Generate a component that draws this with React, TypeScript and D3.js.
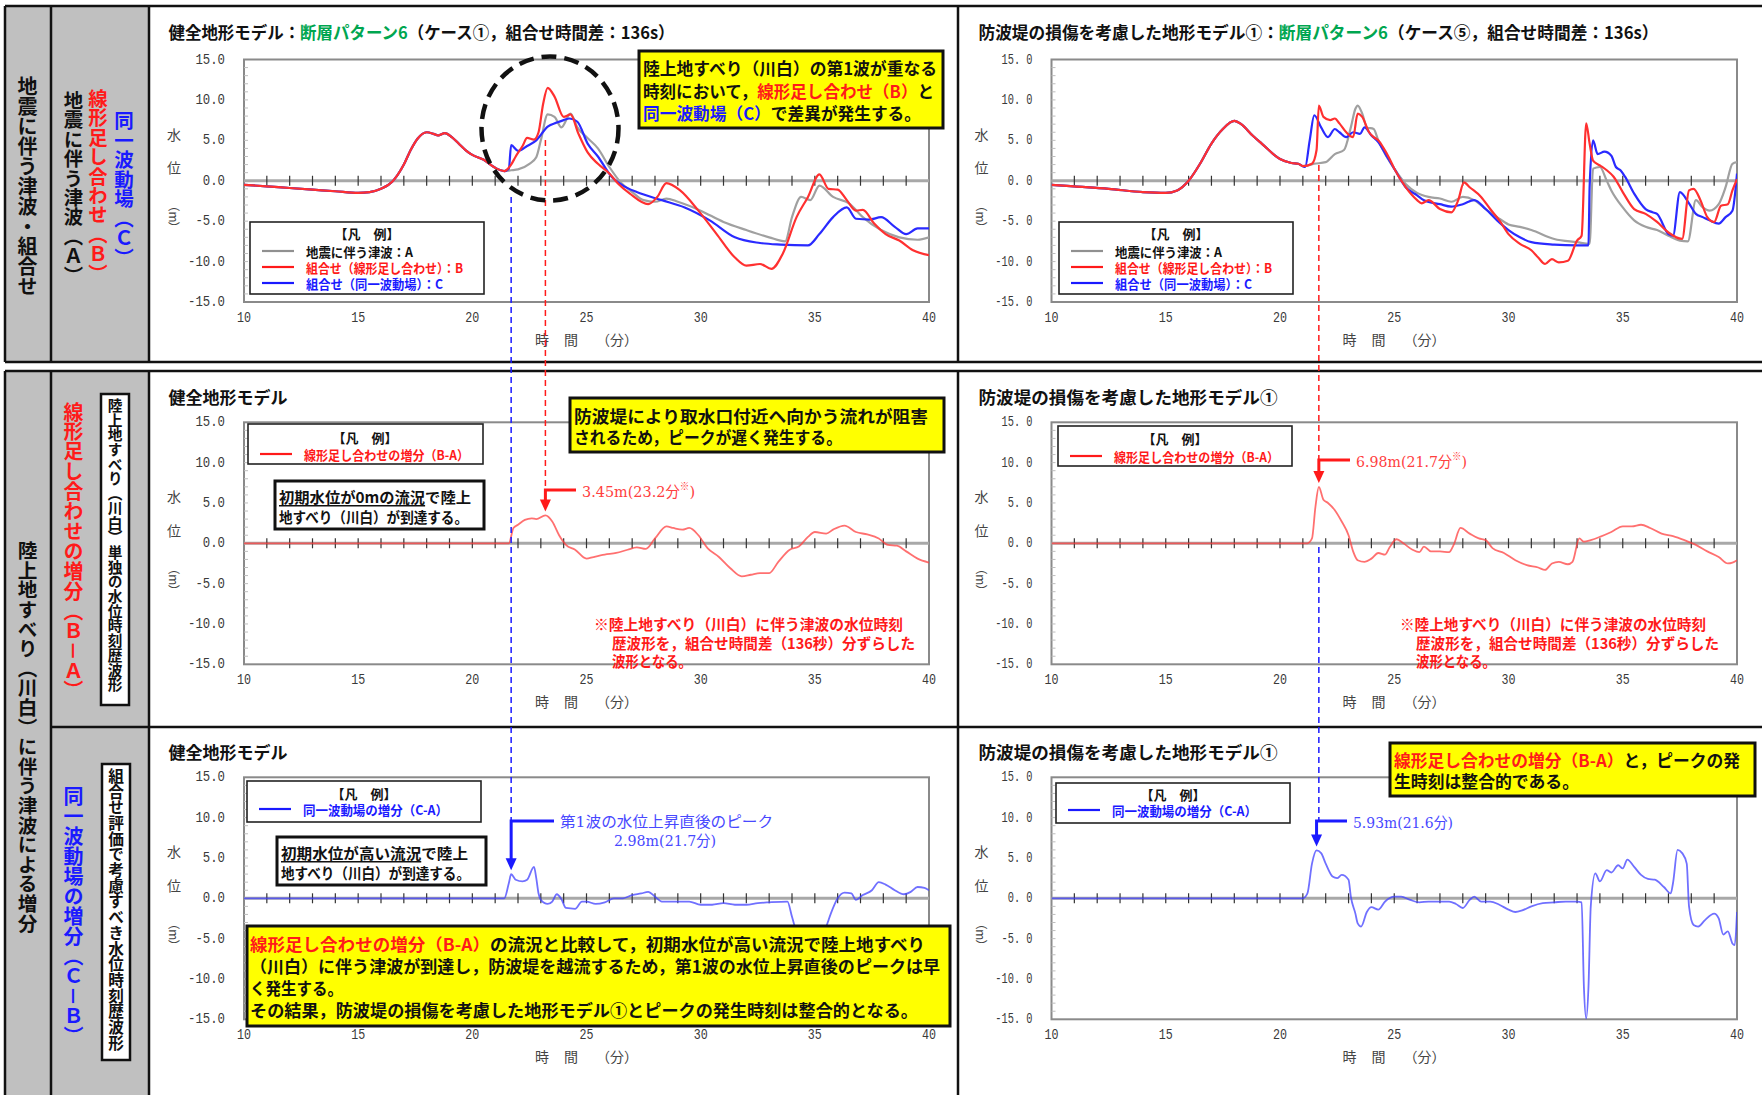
import * as d3 from "d3";

type Pt = [number, number];
type Seg = [string, string];

const FONT = "'Noto Sans CJK JP', 'Noto Sans', sans-serif";
const NUM_FONT = "'Liberation Mono', 'DejaVu Sans Mono', monospace";
const SERIF = "'DejaVu Serif', 'Liberation Serif', 'Noto Sans CJK JP', serif";

const RED = "#ff1a1a";
const BLUE = "#1a1aff";
const GREEN = "#00a650";

const timeTicks = [10, 15, 20, 25, 30, 35, 40];
const levelTicks = [15, 10, 5, 0, -5, -10, -15];

// 健全地形モデル (A/B/C share the first part)
const healthyLead: Pt[] = [
  [10, -0.5], [11, -0.7], [12, -0.9], [13, -1.1], [14, -1.3], [15, -1.5], [15.5, -1.4],
  [16, -1.0], [16.5, -0.1], [17, 2.0], [17.3, 3.8], [17.6, 5.2], [18, 6.0], [18.3, 5.8],
  [18.5, 5.6], [18.8, 5.9], [19.1, 5.4], [19.4, 4.6], [19.7, 3.8], [20, 3.2], [20.5, 2.6],
  [21, 1.6], [21.4, 1.2],
];
const healthyATail: Pt[] = [
  [21.7, 1.3], [22, 1.4], [22.5, 2.1], [22.8, 2.9], [23, 5.0], [23.3, 8.2], [23.6, 7.9],
  [23.9, 6.6], [24.3, 8.3], [24.6, 6.6], [25, 5.4], [25.5, 4.0], [26, 1.7], [26.5, -0.2],
  [27, -1.4], [27.5, -2.4], [28, -2.6], [28.5, -2.2], [29, -2.6], [30, -3.7], [31, -5.1],
  [32, -6.1], [33, -7.0], [33.7, -7.5], [34, -4.5], [34.4, -2.0], [34.8, -2.4], [35.2, -0.6],
  [35.8, -2.0], [36.5, -2.8], [37.1, -4.5], [37.9, -6.1], [38.7, -7.0], [39.5, -7.3], [40, -7.0],
];
const healthyBTail: Pt[] = [
  [21.7, 2.0], [21.9, 3.0], [22.2, 4.3], [22.4, 5.3], [22.7, 5.1], [22.9, 6.0], [23.1, 9.5],
  [23.3, 11.5], [23.6, 10.4], [24.0, 7.9], [24.3, 8.2], [24.65, 5.8], [25.05, 3.5], [25.5, 2.1],
  [26.0, 0.9], [26.4, -0.4], [26.9, -1.6], [27.7, -2.9], [28.1, -2.0], [28.5, -0.3], [29.1, -1.2],
  [29.9, -3.7], [30.7, -6.6], [31.5, -9.5], [32.0, -10.5], [32.6, -10.3], [33.1, -10.9],
  [33.6, -9.0], [34.2, -4.5], [34.7, -2.0], [35.2, 0.8], [35.6, -1.0], [36.0, -1.1], [36.4, -2.4],
  [36.8, -3.7], [37.1, -3.6], [37.6, -5.3], [38.1, -6.6], [38.7, -7.4], [39.3, -8.6], [40, -9.2],
];
const healthyCTail: Pt[] = [
  [21.6, 1.5], [21.7, 4.4], [22.0, 3.7], [22.4, 4.3], [22.8, 5.0], [23.3, 6.7], [23.7, 7.2],
  [24.0, 7.5], [24.25, 7.7], [24.6, 7.3], [25.05, 4.6], [25.5, 3.0], [26.1, 0.5], [26.6, -0.6],
  [27.2, -1.4], [28.3, -2.4], [29.3, -3.3], [30.4, -4.9], [31.5, -7.0], [32.6, -7.7],
  [33.5, -7.9], [34.7, -8.0], [35.2, -6.6], [35.8, -4.5], [36.4, -3.3], [36.8, -4.7],
  [37.4, -4.8], [37.9, -4.5], [38.5, -5.7], [39.0, -6.6], [39.5, -5.9], [40, -5.9],
];

// 防波堤の損傷を考慮した地形モデル①
const damagedLead: Pt[] = [
  [10, -0.5], [11, -0.7], [12.5, -1.0], [14, -1.4], [15, -1.5], [15.5, -1.2], [16.0, 0],
  [16.5, 2.1], [17.0, 4.6], [17.5, 6.4], [18.0, 7.4], [18.3, 7.0], [18.8, 5.6], [19.2, 4.6],
  [20, 2.7], [20.5, 2.2], [20.8, 2.1], [21.0, 1.8],
];
const damagedATail: Pt[] = [
  [21.5, 2.1], [22, 2.3], [22.4, 3.3], [22.8, 3.8], [23.1, 6.6], [23.3, 8.9], [23.4, 9.3],
  [23.6, 8.3], [23.8, 6.6], [24.1, 6.4], [24.3, 5.0], [24.6, 3.3], [25, 1.5], [25.5, -0.4],
  [26, -1.5], [26.5, -2.0], [27, -2.2], [27.5, -2.6], [28, -2.0], [28.5, -2.4], [29, -3.5],
  [29.5, -4.5], [30, -5.4], [30.5, -5.7], [31, -6.1], [32, -7.2], [33, -7.6], [33.55, -7.8],
  [33.7, 1.5], [34.0, 1.7], [34.3, 0], [34.5, -1.2], [35, -3.3], [35.5, -4.9], [36, -5.7],
  [36.5, -6.1], [37, -6.8], [37.5, -7.4], [37.85, -7.5], [38.2, -2.4], [38.5, -3.3],
  [38.8, -3.7], [39.2, -2.9], [39.5, -0.8], [39.8, 2.1], [40, 2.3],
];
const damagedBTail: Pt[] = [
  [21.4, 2.1], [21.6, 3.8], [21.7, 9.3], [21.9, 7.9], [22.2, 7.5], [22.4, 7.7], [22.6, 7.1],
  [22.9, 6.0], [23.2, 5.4], [23.4, 8.3], [23.6, 7.9], [23.9, 6.0], [24.1, 5.4], [24.3, 5.0],
  [24.5, 4.2], [24.8, 2.7], [25, 1.5], [25.5, -0.8], [26, -2.4], [26.2, -2.8], [26.5, -2.4],
  [27, -3.5], [27.5, -3.9], [27.8, -2.4], [28.05, -0.2], [28.3, -0.8], [28.8, -2.0],
  [29.2, -3.5], [29.6, -4.9], [30, -6.6], [30.5, -7.8], [31, -8.6], [31.3, -9.5], [31.6, -10.3],
  [31.9, -9.7], [32.2, -10.1], [32.6, -9.9], [33, -7.4], [33.2, -6.8], [33.4, 7.1], [33.55, 4.6],
  [33.7, 2.5], [34, 1.9], [34.3, 1.3], [34.6, 0.5], [35, -1.4], [35.5, -3.5], [36, -4.1],
  [36.5, -5.1], [37, -6.4], [37.6, -7.2], [37.9, -1.2], [38.1, -1.0], [38.4, -2.4], [38.7, -4.5],
  [39.0, -5.1], [39.3, -3.1], [39.6, -2.9], [39.8, -1.2], [40, 0.2],
];
const damagedCTail: Pt[] = [
  [21.1, 1.7], [21.3, 5.0], [21.5, 8.1], [21.8, 6.6], [22.1, 5.4], [22.4, 6.4], [22.6, 6.0],
  [22.9, 5.4], [23.2, 6.0], [23.5, 5.8], [23.7, 6.6], [24.0, 5.6], [24.3, 4.8], [24.7, 2.9],
  [25, 1.5], [25.5, -0.8], [26, -1.8], [26.3, -2.4], [27, -2.9], [27.5, -3.2], [28, -2.9],
  [28.5, -2.4], [29, -3.5], [29.5, -4.9], [30, -6.1], [30.5, -7.0], [31, -7.6], [32, -7.9],
  [33, -8.0], [33.5, -8.0], [33.55, -0.8], [33.7, 5.0], [33.9, 3.3], [34.2, 3.6], [34.5, 3.1],
  [34.7, 1.7], [34.9, 1.3], [35.1, 0.5], [35.5, -1.6], [36, -3.5], [36.3, -3.9], [36.5, -4.1],
  [37, -6.6], [37.2, -6.8], [37.5, -1.4], [37.9, -2.8], [38.2, -4.1], [38.5, -4.5], [38.8, -4.9],
  [39.2, -5.3], [39.5, -4.5], [39.8, -3.7], [40, 0.9],
];

// 増分
const healthyBA: Pt[] = [
  [10, 0], [21.6, 0], [21.8, 1.9], [22.0, 2.3], [22.3, 2.9], [22.6, 3.1], [22.8, 3.0],
  [23.2, 3.45], [23.5, 2.7], [23.8, 1.0], [24.1, -0.2], [24.5, -0.8], [25, -1.9], [25.3, -1.7],
  [25.8, -1.4], [26.3, -1.2], [26.8, -0.8], [27.2, -0.5], [27.6, -0.7], [28.0, 0.6], [28.5, 2.1],
  [28.8, 1.9], [29.2, 1.7], [29.5, 1.9], [29.9, 1.0], [30.3, -0.6], [30.8, -1.7], [31.3, -3.1],
  [31.8, -4.1], [32.2, -3.9], [32.6, -3.7], [33, -3.7], [33.4, -2.3], [33.9, -0.8], [34.3, -0.4],
  [34.7, 0.8], [35, 1.4], [35.5, 1.2], [35.8, 1.7], [36.3, 2.2], [36.8, 1.4], [37.3, 1.1],
  [37.8, 0.6], [38.2, -0.2], [38.6, -0.3], [39, -1.0], [39.5, -1.9], [40, -2.4],
];
const damagedBA: Pt[] = [
  [10, 0], [21.2, 0], [21.4, 0.6], [21.55, 4.5], [21.7, 6.98], [21.9, 5.4], [22.1, 5.0],
  [22.4, 4.1], [22.7, 2.7], [23.0, 1.0], [23.2, -1.0], [23.4, -2.1], [23.7, -2.3], [24.0, -1.9],
  [24.3, -1.2], [24.6, -1.4], [24.8, -0.5], [25.1, 0.5], [25.4, 0], [25.8, -0.8], [26.1, -1.1],
  [26.3, -0.4], [26.6, -1.0], [27, -1.0], [27.4, -1.1], [27.6, -0.2], [27.9, 1.9], [28.3, 1.2],
  [28.7, 0.6], [29.0, 0.4], [29.3, -0.6], [29.8, -1.2], [30.3, -2.1], [30.8, -2.7], [31.3, -3.0],
  [31.6, -3.3], [31.9, -2.5], [32.2, -2.3], [32.6, -2.6], [32.8, -2.3], [33.1, 0.6], [33.3, 0.2],
  [33.6, 0.4], [34, 0.8], [34.5, 1.4], [35, 2.1], [35.4, 2.1], [35.8, 2.3], [36.2, 1.9],
  [36.7, 1.2], [37.2, 0.9], [37.7, 0.4], [38.2, -0.2], [38.7, -1.0], [39.2, -1.7], [39.6, -2.5],
  [39.8, -2.4], [40, -2.1],
];
const healthyCA: Pt[] = [
  [10, 0], [21.4, 0], [21.6, 1.9], [21.7, 2.98], [21.9, 2.3], [22.2, 2.1], [22.4, 2.3],
  [22.7, 3.9], [22.8, 2.5], [22.9, 0.6], [23.0, -0.2], [23.3, -0.7], [23.5, -0.4], [23.7, 0.5],
  [23.9, -0.1], [24.1, -1.2], [24.5, -1.3], [24.8, -0.4], [25, -0.4], [25.4, -0.7], [25.8, -0.5],
  [26.2, 0], [26.6, 0], [27, 0.4], [27.4, 0.6], [27.7, 0.8], [28, 0.2], [28.3, -0.4], [29, -0.4],
  [29.5, -0.4], [30, -0.8], [30.5, -0.8], [31, -0.6], [31.5, -0.8], [32, -0.8], [32.5, -0.6],
  [33, -0.5], [33.8, -0.4], [34.0, -2.3], [34.3, -5.0], [34.8, -6.0], [35.2, -5.2], [35.5, -3.5],
  [35.7, -1.9], [36, 0], [36.3, 0.7], [36.6, 0.6], [36.8, -0.2], [37.1, 0.4], [37.5, 1.0],
  [37.8, 2.0], [38.1, 1.7], [38.5, 1.0], [38.9, 0.5], [39.2, 0.8], [39.5, 1.4], [39.8, 1.3],
  [40, 1.0],
];
const damagedCA: Pt[] = [
  [10, 0], [21.0, 0], [21.2, 0.6], [21.4, 4.3], [21.6, 5.93], [21.8, 5.6], [22.0, 4.3],
  [22.3, 2.7], [22.5, 2.5], [22.7, 2.9], [23.0, 2.3], [23.1, 0.2], [23.3, -1.9], [23.4, -3.1],
  [23.55, -3.5], [23.8, -1.7], [24.0, -1.1], [24.3, -1.4], [24.6, -0.4], [25, 0.2], [25.3, 0.2],
  [25.7, -0.2], [26.1, -0.5], [26.5, -0.4], [27, -0.4], [27.4, -0.4], [27.7, -0.7], [28, -1.2],
  [28.3, -0.2], [28.5, 0.2], [28.8, -0.4], [29.2, -0.4], [29.6, -0.8], [30, -1.4], [30.3, -1.7],
  [30.6, -1.5], [31, -1.0], [31.5, -0.6], [32, -0.5], [32.5, -0.4], [33, -0.4], [33.2, -0.5],
  [33.3, -11], [33.4, -14.9], [33.5, -11], [33.6, -1.0], [33.8, 3.1], [34.0, 2.1], [34.3, 3.5],
  [34.5, 3.2], [34.8, 4.1], [35.0, 3.7], [35.2, 4.8], [35.5, 3.9], [35.8, 2.9], [36.1, 2.4],
  [36.4, 2.3], [36.8, 1.4], [37.1, 0.6], [37.2, 1.9], [37.4, 6.0], [37.6, 5.6], [37.8, 4.3],
  [37.9, -1.0], [38.1, -3.3], [38.3, -3.5], [38.6, -2.7], [39.0, -1.9], [39.2, -2.5], [39.4, -4.5],
  [39.6, -4.1], [39.8, -5.6], [39.9, -5.8], [40, -1.7],
];

const peakHealthyBA: Pt = [23.2, 3.45];
const peakDamagedBA: Pt = [21.7, 6.98];
const peakHealthyCA: Pt = [21.7, 2.98];
const peakDamagedCA: Pt = [21.6, 5.93];

const COLS = { L: [244, 929], R: [1051.5, 1737] } as const;
const ROWS = { r1: [59.5, 302], r2: [422.3, 664.3], r3: [777.3, 1019.3] } as const;
type Col = keyof typeof COLS;
type Row = keyof typeof ROWS;

function scales(col: Col, row: Row) {
  const [l, r] = COLS[col];
  const [t, b] = ROWS[row];
  return {
    x: d3.scaleLinear().domain([10, 40]).range([l, r]),
    y: d3.scaleLinear().domain([-15, 15]).range([b, t]),
    l, r, t, b,
  };
}

type Series = { data: Pt[]; color: string; width: number; opacity?: number };

function Panel({ id, col, row, series }: { id: string; col: Col; row: Row; series: Series[] }) {
  const { x, y, l, r, t, b } = scales(col, row);
  const spaced = col === "R";
  const line = d3.line<Pt>().x((d) => x(d[0])).y((d) => y(d[1])).curve(d3.curveMonotoneX);
  const fmt = (v: number) => (spaced ? v.toFixed(1).replace(".", ". ") : v.toFixed(1));
  return (
    <g>
      <defs>
        <clipPath id={id}>
          <rect x={l} y={t} width={r - l} height={b - t} />
        </clipPath>
      </defs>
      <rect x={l} y={t} width={r - l} height={b - t} fill="#fff" stroke="#8a8a8a" strokeWidth={2} />
      {d3.range(-14, 15).map((v) => (
        <line key={v} x1={l} x2={l + 4} y1={y(v)} y2={y(v)} stroke="#bdbdbd" strokeWidth={1} />
      ))}
      <line x1={l} x2={r} y1={y(0)} y2={y(0)} stroke="#a8a8a8" strokeWidth={3} />
      {d3.range(11, 40).map((tm) => (
        <line key={tm} x1={x(tm)} x2={x(tm)} y1={y(0) - 5} y2={y(0) + 5} stroke="#333" strokeWidth={1.2} />
      ))}
      {levelTicks.map((v) => {
        const s = fmt(v);
        return (
          <text key={v} x={l - 19} y={y(v)} textAnchor="end" dominantBaseline="central" fontFamily={NUM_FONT}
            fontSize={14.5} fill="#3a3a3a" textLength={s.length * (spaced ? 6.2 : 7.4)} lengthAdjust="spacingAndGlyphs">
            {s}
          </text>
        );
      })}
      {timeTicks.map((tm) => (
        <text key={tm} x={x(tm)} y={b + 16} textAnchor="middle" dominantBaseline="central" fontFamily={NUM_FONT}
          fontSize={14.5} fill="#3a3a3a" textLength={14} lengthAdjust="spacingAndGlyphs">
          {tm}
        </text>
      ))}
      <g fontFamily={FONT} fontSize={14} fill="#444">
        <text x={l - 70} y={t + 74} textAnchor="middle" dominantBaseline="central">水</text>
        <text x={l - 70} y={t + 107.5} textAnchor="middle" dominantBaseline="central">位</text>
        <text x={l - 70} y={t + 157.5} textAnchor="middle" style={{ writingMode: "vertical-rl" }} fontSize={12}>（m）</text>
        <text x={l + 298} y={b + 37} textAnchor="middle" dominantBaseline="central">時</text>
        <text x={l + 327} y={b + 37} textAnchor="middle" dominantBaseline="central">間</text>
        <text x={l + 373} y={b + 37} textAnchor="middle" dominantBaseline="central">（分）</text>
      </g>
      <g clipPath={`url(#${id})`}>
        {series.map((s, i) => (
          <path key={i} d={line(s.data) ?? ""} fill="none" stroke={s.color} strokeWidth={s.width}
            strokeOpacity={s.opacity ?? 1} strokeLinejoin="round" />
        ))}
      </g>
    </g>
  );
}

function Rich({ x, y, size, segs, len, weight = 700, font = FONT }: {
  x: number; y: number; size: number; segs: Seg[]; len?: number; weight?: number; font?: string;
}) {
  return (
    <text x={x} y={y} fontSize={size} fontWeight={weight} fontFamily={font} dominantBaseline="central"
      textLength={len} lengthAdjust={len ? "spacingAndGlyphs" : undefined}>
      {segs.map(([txt, c], i) => (
        <tspan key={i} fill={c === "u" ? "#111" : c} style={c === "u" ? { textDecoration: "underline" } : undefined}>
          {txt}
        </tspan>
      ))}
    </text>
  );
}

type LegendItem = { label: string; color: string; len: number };

function Legend({ x, y, w, h, titleDy, rowDy, rowGap, items }: {
  x: number; y: number; w: number; h: number; titleDy: number; rowDy: number; rowGap: number; items: LegendItem[];
}) {
  return (
    <g fontFamily={FONT} fontWeight={700} fontSize={13}>
      <rect x={x} y={y} width={w} height={h} fill="#fff" stroke="#222" strokeWidth={1.6} />
      <text x={x + 117} y={y + titleDy} textAnchor="middle" dominantBaseline="central" fill="#111">【凡　例】</text>
      {items.map((it, i) => (
        <g key={i}>
          <line x1={x + 12} x2={x + 44} y1={y + rowDy + i * rowGap} y2={y + rowDy + i * rowGap} stroke={it.color} strokeWidth={2.2} />
          <text x={x + 56} y={y + rowDy + i * rowGap} dominantBaseline="central" fill={it.color === "#909090" ? "#111" : it.color}
            textLength={it.len} lengthAdjust="spacingAndGlyphs">{it.label}</text>
        </g>
      ))}
    </g>
  );
}

function PeakArrow({ col, row, peak, labelX, labelY, color }: {
  col: Col; row: Row; peak: Pt; labelX: number; labelY: number; color: string;
}) {
  const { x, y } = scales(col, row);
  const px = x(peak[0]);
  const tip = y(peak[1]) - 4;
  const by = labelY - 2;
  return (
    <g>
      <path d={`M${labelX - 6},${by}H${px}V${tip - 11}`} fill="none" stroke={color} strokeWidth={3} />
      <path d={`M${px - 5.5},${tip - 12}L${px + 5.5},${tip - 12}L${px},${tip}Z`} fill={color} />
    </g>
  );
}

function VText({ x, y, size, color, children }: { x: number; y: number; size: number; color: string; children: string }) {
  return (
    <text x={x} y={y} fontSize={size} fill={color} fontWeight={700} fontFamily={FONT} style={{ writingMode: "vertical-rl" }}>
      {children}
    </text>
  );
}

const K = "#111";

export default function App() {
  const sL1 = scales("L", "r1");
  const sR1 = scales("R", "r1");
  const topA = "#a0a0a0";
  const legendTop: LegendItem[] = [
    { label: "地震に伴う津波：A", color: "#909090", len: 107 },
    { label: "組合せ（線形足し合わせ）：B", color: RED, len: 157 },
    { label: "組合せ（同一波動場）：C", color: BLUE, len: 137 },
  ];
  const xRed = sL1.x(peakHealthyBA[0]);
  const xBlue = sL1.x(peakHealthyCA[0]);
  const xRight = sR1.x(peakDamagedBA[0]);
  return (
    <div style={{ position: "absolute", left: 0, top: 0 }}>
      <svg width={1762} height={1095} viewBox="0 0 1762 1095" style={{ display: "block" }}>
        <rect x={0} y={0} width={1762} height={1095} fill="#fff" />
        <rect x={5} y={6} width={144} height={356} fill="#c0c0c0" />
        <rect x={5} y={371} width={144} height={730} fill="#c0c0c0" />

        <Panel id="c1" col="L" row="r1" series={[
          { data: [...healthyLead, ...healthyATail], color: topA, width: 2.2 },
          { data: [...healthyLead, ...healthyCTail], color: "#2a2aff", width: 2.2 },
          { data: [...healthyLead, ...healthyBTail], color: "#ff3030", width: 2.2 },
        ]} />
        <Panel id="c2" col="R" row="r1" series={[
          { data: [...damagedLead, ...damagedATail], color: topA, width: 2.2 },
          { data: [...damagedLead, ...damagedCTail], color: "#2a2aff", width: 2.2 },
          { data: [...damagedLead, ...damagedBTail], color: "#ff3030", width: 2.2 },
        ]} />
        <Panel id="c3" col="L" row="r2" series={[{ data: healthyBA, color: "#ff4040", width: 1.8, opacity: 0.75 }]} />
        <Panel id="c4" col="R" row="r2" series={[{ data: damagedBA, color: "#ff4040", width: 1.8, opacity: 0.75 }]} />
        <Panel id="c5" col="L" row="r3" series={[{ data: healthyCA, color: "#4040ff", width: 1.8, opacity: 0.75 }]} />
        <Panel id="c6" col="R" row="r3" series={[{ data: damagedCA, color: "#4040ff", width: 1.8, opacity: 0.75 }]} />

        {/* frame lines */}
        <g stroke="#111" strokeWidth={2.5}>
          <line x1={5} x2={1762} y1={6} y2={6} />
          <line x1={5} x2={1762} y1={362} y2={362} />
          <line x1={5} x2={1762} y1={371} y2={371} />
          <line x1={51} x2={1762} y1={727} y2={727} />
          {[5, 51, 149, 958].map((vx) => (
            <g key={vx}>
              <line x1={vx} x2={vx} y1={6} y2={362} />
              <line x1={vx} x2={vx} y1={371} y2={1095} />
            </g>
          ))}
        </g>

        {/* titles */}
        <Rich x={168.5} y={30.5} size={17} len={506}
          segs={[["健全地形モデル：", K], ["断層パターン6", GREEN], ["（ケース①，組合せ時間差：136s）", K]]} />
        <Rich x={978.5} y={30.5} size={17} len={680}
          segs={[["防波堤の損傷を考慮した地形モデル①：", K], ["断層パターン6", GREEN], ["（ケース⑤，組合せ時間差：136s）", K]]} />
        <Rich x={168.5} y={396} size={17} segs={[["健全地形モデル", K]]} />
        <Rich x={978.5} y={396} size={17} len={299} segs={[["防波堤の損傷を考慮した地形モデル①", K]]} />
        <Rich x={168.5} y={751} size={17} segs={[["健全地形モデル", K]]} />
        <Rich x={978.5} y={751} size={17} len={299} segs={[["防波堤の損傷を考慮した地形モデル①", K]]} />

        {/* dashed guide lines */}
        <g strokeWidth={1.5} strokeDasharray="6,4">
          <line x1={xRed} x2={xRed} y1={140} y2={490} stroke={RED} />
          <line x1={xBlue} x2={xBlue} y1={197} y2={821} stroke={BLUE} />
          <line x1={xRight} x2={xRight} y1={165} y2={460} stroke={RED} />
          <line x1={xRight} x2={xRight} y1={547} y2={821} stroke={BLUE} />
        </g>
        <ellipse cx={550} cy={128.5} rx={68.5} ry={72} fill="none" stroke="#111" strokeWidth={4.5} strokeDasharray="15,8" />

        {/* legends */}
        <Legend x={250} y={222} w={234} h={72} titleDy={11} rowDy={29} rowGap={16} items={legendTop} />
        <Legend x={1059} y={222} w={234} h={72} titleDy={11} rowDy={29} rowGap={16} items={legendTop} />
        <Legend x={248} y={424} w={235} h={40} titleDy={13} rowDy={30} rowGap={0}
          items={[{ label: "線形足し合わせの増分（B-A）", color: RED, len: 165 }]} />
        <Legend x={1058} y={426} w={234} h={40} titleDy={12} rowDy={30} rowGap={0}
          items={[{ label: "線形足し合わせの増分（B-A）", color: RED, len: 165 }]} />
        <Legend x={247} y={781} w={234} h={41} titleDy={12} rowDy={28} rowGap={0}
          items={[{ label: "同一波動場の増分（C-A）", color: BLUE, len: 145 }]} />
        <Legend x={1056} y={783} w={234} h={40} titleDy={11} rowDy={27} rowGap={0}
          items={[{ label: "同一波動場の増分（C-A）", color: BLUE, len: 145 }]} />

        {/* yellow notes */}
        <g>
          <rect x={639} y={51} width={304} height={77} fill="#ffff00" stroke="#111" strokeWidth={3} />
          <Rich x={643} y={68} size={16.5} len={294} segs={[["陸上地すべり（川白）の第1波が重なる", K]]} />
          <Rich x={643} y={91} size={16.5} len={291} segs={[["時刻において，", K], ["線形足し合わせ（B）", RED], ["と", K]]} />
          <Rich x={643} y={113} size={16.5} len={278} segs={[["同一波動場（C）", BLUE], ["で差異が発生する。", K]]} />

          <rect x={570} y={398} width={374} height={54} fill="#ffff00" stroke="#111" strokeWidth={3} />
          <Rich x={574} y={416} size={16.5} len={354} segs={[["防波堤により取水口付近へ向かう流れが阻害", K]]} />
          <Rich x={574} y={437} size={16.5} len={268} segs={[["されるため，ピークが遅く発生する。", K]]} />

          <rect x={247} y={926} width={703} height={100} fill="#ffff00" stroke="#111" strokeWidth={3} />
          <Rich x={250} y={944} size={16.5} len={675}
            segs={[["線形足し合わせの増分（B-A）", RED], ["の流況と比較して，初期水位が高い流況で陸上地すべり", K]]} />
          <Rich x={250} y={966} size={16.5} len={690}
            segs={[["（川白）に伴う津波が到達し，防波堤を越流するため，第1波の水位上昇直後のピークは早", K]]} />
          <Rich x={250} y={988} size={16.5} len={93} segs={[["く発生する。", K]]} />
          <Rich x={250} y={1010} size={16.5} len={668}
            segs={[["その結果，防波堤の損傷を考慮した地形モデル①とピークの発生時刻は整合的となる。", K]]} />

          <rect x={1390} y={743} width={365} height={53} fill="#ffff00" stroke="#111" strokeWidth={3} />
          <Rich x={1394} y={760} size={16.5} len={346} segs={[["線形足し合わせの増分（B-A）", RED], ["と，ピークの発", K]]} />
          <Rich x={1394} y={781} size={16.5} len={185} segs={[["生時刻は整合的である。", K]]} />
        </g>

        {/* white notes */}
        <rect x={275} y={481} width={209} height={48} fill="#fff" stroke="#111" strokeWidth={3} />
        <Rich x={279} y={496} size={15} len={192} segs={[["初期水位が0mの流況", "u"], ["で陸上", K]]} />
        <Rich x={279} y={516} size={15} len={189} segs={[["地すべり（川白）が到達する。", K]]} />
        <rect x={277} y={837} width={209} height={48} fill="#fff" stroke="#111" strokeWidth={3} />
        <Rich x={281} y={852} size={15} len={187} segs={[["初期水位が高い流況", "u"], ["で陸上", K]]} />
        <Rich x={281} y={872} size={15} len={189} segs={[["地すべり（川白）が到達する。", K]]} />

        {/* red footnotes */}
        <Rich x={594} y={623} size={15} len={309} segs={[["※陸上地すべり（川白）に伴う津波の水位時刻", RED]]} />
        <Rich x={612} y={642} size={15} len={303} segs={[["歴波形を，組合せ時間差（136秒）分ずらした", RED]]} />
        <Rich x={612} y={660} size={15} len={80} segs={[["波形となる。", RED]]} />
        <Rich x={1400} y={623} size={15} len={306} segs={[["※陸上地すべり（川白）に伴う津波の水位時刻", RED]]} />
        <Rich x={1416} y={642} size={15} len={303} segs={[["歴波形を，組合せ時間差（136秒）分ずらした", RED]]} />
        <Rich x={1416} y={660} size={15} len={80} segs={[["波形となる。", RED]]} />

        {/* peak arrows */}
        <PeakArrow col="L" row="r2" peak={peakHealthyBA} labelX={582} labelY={492} color={RED} />
        <PeakArrow col="R" row="r2" peak={peakDamagedBA} labelX={1356} labelY={462} color={RED} />
        <PeakArrow col="L" row="r3" peak={peakHealthyCA} labelX={560} labelY={823} color={BLUE} />
        <PeakArrow col="R" row="r3" peak={peakDamagedCA} labelX={1353} labelY={823} color={BLUE} />
        <g fontFamily={SERIF} fontSize={15}>
          <text x={582} y={492} dominantBaseline="central" fill="#ff4040" textLength={113} lengthAdjust="spacingAndGlyphs">
            3.45m(23.2分<tspan fontSize={10} dy={-6}>※</tspan><tspan dy={6}>)</tspan>
          </text>
          <text x={1356} y={462} dominantBaseline="central" fill="#ff4040" textLength={111} lengthAdjust="spacingAndGlyphs">
            6.98m(21.7分<tspan fontSize={10} dy={-6}>※</tspan><tspan dy={6}>)</tspan>
          </text>
          <text x={560} y={822} dominantBaseline="central" fill="#4848ff" textLength={213} lengthAdjust="spacingAndGlyphs">
            第1波の水位上昇直後のピーク
          </text>
          <text x={614} y={841} dominantBaseline="central" fill="#4848ff" textLength={102} lengthAdjust="spacingAndGlyphs">
            2.98m(21.7分)
          </text>
          <text x={1353} y={823} dominantBaseline="central" fill="#4848ff" textLength={100} lengthAdjust="spacingAndGlyphs">
            5.93m(21.6分)
          </text>
        </g>

        {/* left header columns */}
        <VText x={27.5} y={76} size={20} color={K}>地震に伴う津波・組合せ</VText>
        <VText x={73.5} y={91} size={19.4} color={K}>地震に伴う津波（Ａ）</VText>
        <VText x={98} y={89} size={19.4} color={RED}>線形足し合わせ（Ｂ）</VText>
        <VText x={124} y={111} size={19.5} color={BLUE}>同一波動場（Ｃ）</VText>

        <VText x={27.5} y={541} size={19.6} color={K}>陸上地すべり（川白）に伴う津波による増分</VText>
        <VText x={73.5} y={402} size={19.9} color={RED}>線形足し合わせの増分（Ｂ－Ａ）</VText>
        <rect x={101} y={394} width={28} height={311} fill="#fff" stroke="#111" strokeWidth={2.5} />
        <VText x={115} y={398} size={14.7} color={K}>陸上地すべり（川白）単独の水位時刻歴波形</VText>
        <VText x={73.5} y={786} size={20} color={BLUE}>同一波動場の増分（Ｃ－Ｂ）</VText>
        <rect x={102} y={764} width={28} height={296} fill="#fff" stroke="#111" strokeWidth={2.5} />
        <VText x={116} y={768} size={15.7} color={K}>組合せ評価で考慮すべき水位時刻歴波形</VText>
      </svg>
    </div>
  );
}
